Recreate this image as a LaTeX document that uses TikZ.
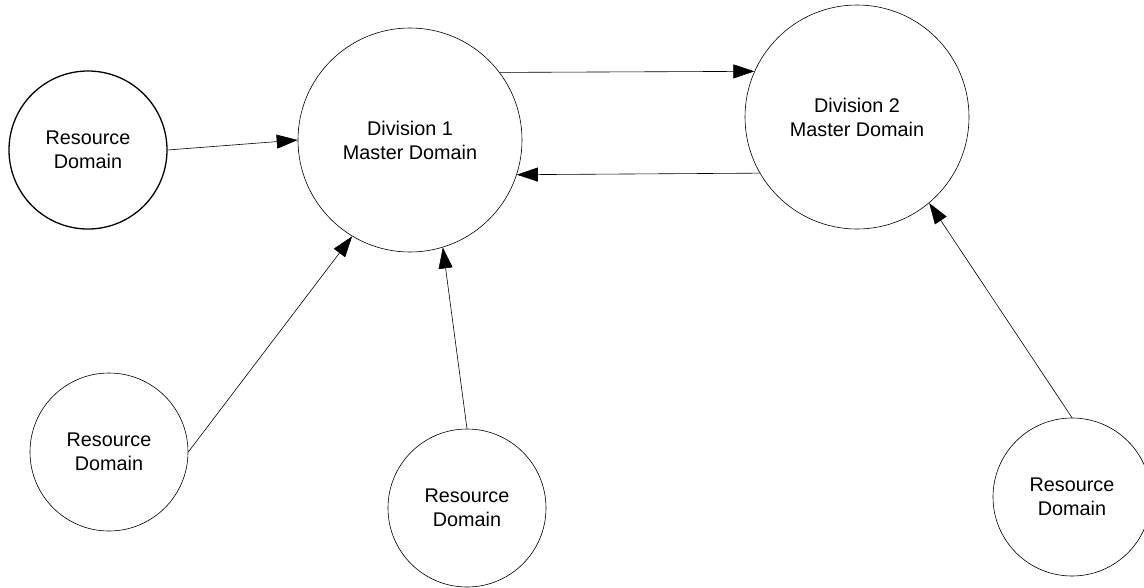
\documentclass[tikz,border=0pt]{standalone}
\usepackage{fontspec}
\setmainfont{Liberation Sans}
\usetikzlibrary{arrows.meta}
\usetikzlibrary{calc}

\begin{document}
\begin{tikzpicture}[
        x=1pt, y=-1pt,
        every node/.style={font=\fontsize{19.8}{24}\selectfont},
        master/.style={circle,draw,line width=0.6pt,minimum size=224pt,inner sep=0pt,align=center},
        resource/.style={circle,draw,line width=0.6pt,minimum size=158pt,inner sep=0pt,align=center},
        trust/.style={line width=0.6pt,black,-{Triangle[length=21pt,width=14pt]}},
        ]
        \useasboundingbox (0,0) rectangle (1144,587);

        \node[master](div1) at (410,140){Division 1\\Master Domain};
        \node[master](div2) at (857,117){Division 2\\Master Domain};

        \node[resource, line width=1.3pt](rd_top) at (88,150){Resource\\Domain};
        \node[resource](rd_left) at (109,452){Resource\\Domain};
        \node[resource](rd_mid) at (467,508){Resource\\Domain};
        \node[resource](rd_right) at (1072,497){Resource\\Domain};

        \draw[trust] (div1.37.4) -- (div2.156.3);
        \draw[trust] (div2.210.6) -- (div1.342.3);

        \draw[trust] (rd_top.east) -- (div1.west);
        \draw[trust] (rd_left.east) -- (div1.239.6);
        \draw[trust] (rd_mid.north) -- (div1.287);
        \draw[trust] (rd_right.north) -- (div2.310);
            % node[east]{};

        \end{tikzpicture}
\end{document}
